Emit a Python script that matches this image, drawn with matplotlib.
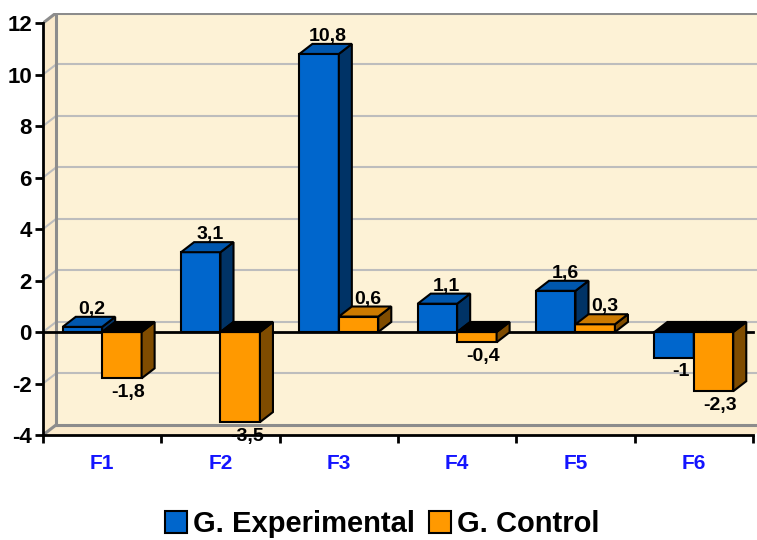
import matplotlib
matplotlib.use('Agg')
import matplotlib.pyplot as plt
from matplotlib.patches import Patch

categories = ['F1', 'F2', 'F3', 'F4', 'F5', 'F6']
experimental = [0.2, 3.1, 10.8, 1.1, 1.6, -1.0]
control = [-1.8, -3.5, 0.6, -0.4, 0.3, -2.3]
series_names = ['G. Experimental', 'G. Control']
y_ticks = [-4, -2, 0, 2, 4, 6, 8, 10, 12]

# face colours: front, side, top (positive), top (negative)
faces = [('#0066CC', '#003366', '#0057AE', '#000000'),
         ('#FF9900', '#7F4C00', '#CC7A00', '#000000')]

FONT = 'Liberation Sans'
DX, DY = 0.11, 0.39       # fake depth, in data units
BW = 1 / 3
WALL = '#FDF2D6'
SIDEWALL = '#FBEACB'
FRAME = '#8C8C8C'
GRID = '#BDBDBD'

fig = plt.figure(figsize=(7.57, 5.4), dpi=100)
ax = fig.add_axes([43 / 757, 105 / 540, 723 / 757, 422 / 540])
ax.set_facecolor('white')
n = len(categories)
ymin, ymax = y_ticks[0], y_ticks[-1]
ax.set_xlim(0, n + DX)
ax.set_ylim(ymin, ymax + DY)

# walls and floor
ax.fill([DX, n + DX, n + DX, DX], [ymin + DY, ymin + DY, ymax + DY, ymax + DY],
        color=WALL, zorder=0)
ax.fill([0, DX, DX, 0], [ymin, ymin + DY, ymax + DY, ymax], color=SIDEWALL, zorder=0)
ax.fill([0, n, n + DX, DX], [ymin, ymin, ymin + DY, ymin + DY], color=SIDEWALL, zorder=0)
for t in y_ticks[1:-1]:
    ax.plot([DX, n + DX], [t + DY, t + DY], color=GRID, lw=1.5, zorder=1)
    ax.plot([0, DX], [t, t + DY], color=GRID, lw=1.5, zorder=1)
ax.plot([DX, n + DX], [ymax + DY, ymax + DY], color=FRAME, lw=2.2, zorder=1)
ax.plot([DX, n + DX], [ymin + DY, ymin + DY], color=FRAME, lw=2.2, zorder=1)
ax.plot([DX, DX], [ymin + DY, ymax + DY], color=FRAME, lw=2.2, zorder=1)
ax.plot([0, DX], [ymax, ymax + DY], color=FRAME, lw=2.2, zorder=1)
ax.plot([0, DX], [ymin, ymin + DY], color=FRAME, lw=2.2, zorder=1)
ax.plot([0, n], [0, 0], color='black', lw=2, zorder=2)

for i, vals in enumerate([experimental, control]):
    front, side, top_pos, top_neg = faces[i]
    lefts = [k + 1 / 6 + i * BW for k in range(n)]
    bars = ax.bar(lefts, vals, width=BW, align='edge', color=front,
                  edgecolor='black', linewidth=1.5)
    for k, (bar, x0, v) in enumerate(zip(bars, lefts, vals)):
        z = 3 + k * 0.1 + i * 0.05
        bar.set_zorder(z)
        lo, hi = min(0, v), max(0, v)
        x1 = x0 + BW
        ax.fill([x1, x1 + DX, x1 + DX, x1], [lo, lo + DY, hi + DY, hi],
                facecolor=side, edgecolor='black', lw=1.5, zorder=z)
        ax.fill([x0, x0 + DX, x1 + DX, x1], [hi, hi + DY, hi + DY, hi],
                facecolor=top_pos if v > 0 else top_neg, edgecolor='black',
                lw=1.5, zorder=z)
        label = f'{v:g}'.replace('.', ',')
        if v >= 0:
            ax.annotate(label, (x0 + BW / 2 + DX * 0.7, hi + DY), xytext=(0, 2),
                        textcoords='offset points', ha='center', va='baseline',
                        fontsize=14, fontweight='bold', family=FONT, zorder=10)
        else:
            ax.annotate(label, (x0 + BW / 2 + DX * 0.5, lo), xytext=(0, -4),
                        textcoords='offset points', ha='center', va='top',
                        fontsize=14, fontweight='bold', family=FONT, zorder=10)

# axes
for s in ['top', 'right']:
    ax.spines[s].set_visible(False)
ax.spines['left'].set_bounds(ymin, ymax)
ax.spines['bottom'].set_bounds(0, n)
for s in ['left', 'bottom']:
    ax.spines[s].set_linewidth(2)
    ax.spines[s].set_zorder(2)
ax.set_yticks(y_ticks)
ax.set_yticklabels([str(t) for t in y_ticks])
ax.set_xticks(range(n + 1))
ax.set_xticklabels([])
ax.set_xticks([k + 0.5 for k in range(n)], minor=True)
ax.set_xticklabels(categories, minor=True)
ax.tick_params(axis='both', which='major', direction='out', length=6, width=2)
ax.tick_params(axis='y', pad=2)
ax.tick_params(axis='x', which='minor', length=0, pad=14)
for lab in ax.get_yticklabels():
    lab.set_fontsize(16)
    lab.set_fontweight('bold')
    lab.set_family(FONT)
for lab in ax.get_xticklabels(minor=True):
    lab.set_fontsize(15)
    lab.set_fontweight('bold')
    lab.set_family(FONT)
    lab.set_color('#1414FF')

handles = [Patch(facecolor=faces[i][0], edgecolor='black', lw=1.5) for i in range(2)]
fig.legend(handles, series_names, loc='lower center', bbox_to_anchor=(0.505, -0.045),
           ncol=2, frameon=False, handlelength=0.75, handleheight=0.75,
           handletextpad=0.2, columnspacing=0.5,
           prop={'family': FONT, 'weight': 'bold', 'size': 21})

fig.savefig('out.png', dpi=100)
